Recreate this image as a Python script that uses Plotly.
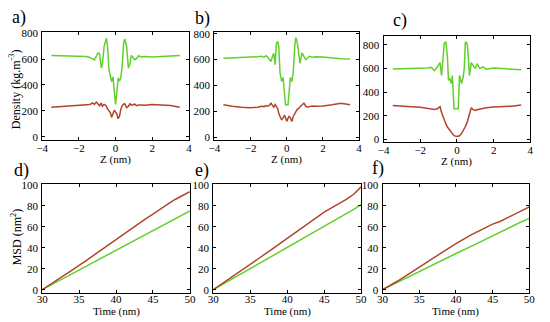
import plotly.graph_objects as go

# ---------------- data ----------------
z_a = [-3.5, -3.0, -2.5, -2.0, -1.6, -1.4, -1.25, -1.15, -1.05, -0.95, -0.87, -0.78, -0.72, -0.62, -0.5,
       -0.44, -0.36, -0.28, -0.22, -0.14, -0.07, 0, 0.07, 0.14, 0.22, 0.28, 0.36, 0.44, 0.5, 0.6, 0.7,
       0.78, 0.86, 0.95, 1.05, 1.15, 1.25, 1.4, 1.6, 2.0, 2.5, 3.0, 3.5]
green_a = [628, 625, 622, 617, 620, 612, 603, 593, 622, 648, 640, 531, 560, 700, 760,
           700, 520, 449, 425, 462, 350, 250, 340, 455, 430, 452, 540, 720, 755, 700, 530,
           560, 628, 610, 595, 605, 625, 615, 620, 615, 618, 625, 628]
red_a = [228, 232, 238, 242, 248, 250, 262, 250, 268, 255, 240, 262, 235, 250, 238,
         215, 195, 185, 150, 185, 205, 190, 175, 140, 160, 210, 240, 252, 255, 225, 235,
         255, 245, 248, 252, 240, 245, 245, 243, 250, 248, 242, 228]

z_b = [-3.5, -3.0, -2.5, -2.0, -1.6, -1.4, -1.25, -1.15, -1.05, -0.95, -0.87, -0.78, -0.72, -0.64, -0.58,
       -0.5, -0.44, -0.37, -0.28, -0.2, -0.12, -0.07, 0, 0.07, 0.12, 0.2, 0.28, 0.36, 0.44, 0.5, 0.58,
       0.66, 0.73, 0.84, 0.95, 1.05, 1.15, 1.25, 1.4, 1.6, 2.0, 2.5, 3.0, 3.5]
green_b = [610, 612, 615, 620, 622, 625, 618, 630, 620, 600, 585, 630, 648, 560, 720,
           740, 700, 494, 431, 461, 330, 250, 250, 250, 330, 461, 430, 500, 700, 770, 735,
           640, 571, 651, 620, 600, 612, 625, 618, 622, 620, 612, 606, 605]
red_b = [250, 238, 232, 228, 232, 238, 236, 244, 240, 248, 262, 240, 232, 252, 235,
         220, 182, 160, 132, 150, 170, 150, 122, 145, 160, 150, 120, 160, 175, 195, 215,
         222, 235, 250, 262, 240, 232, 236, 240, 238, 240, 250, 262, 250]

z_c = [-3.5, -3.0, -2.5, -2.0, -1.6, -1.4, -1.23, -1.05, -0.92, -0.84, -0.74, -0.69, -0.6, -0.52, -0.46,
       -0.4, -0.3, -0.25, -0.16, 0, 0.07, 0.14, 0.25, 0.33, 0.4, 0.46, 0.56, 0.62, 0.68, 0.78, 0.9,
       1.0, 1.1, 1.25, 1.4, 1.6, 2.0, 2.5, 3.0, 3.5]
green_c = [596, 598, 596, 598, 605, 610, 582, 620, 650, 541, 700, 814, 827, 700, 500,
           520, 473, 541, 260, 260, 260, 541, 473, 520, 600, 827, 810, 700, 541, 650, 620,
           600, 640, 600, 615, 595, 605, 598, 596, 590]
red_c = [288, 280, 278, 272, 265, 262, 253, 262, 278, 228, 185, 160, 130, 106, 92,
         80, 60, 50, 33, 25, 27, 32, 50, 70, 90, 110, 147, 185, 220, 269, 250,
         245, 252, 258, 262, 268, 275, 278, 282, 292]

time = [30, 32, 34, 36, 38, 40, 42, 44, 45, 46, 47, 48, 49, 50]
red_d = [0, 9, 18.5, 28, 38, 48, 58, 67.5, 72, 77, 81.5, 86, 90, 93.5]
green_d = [0, 7.5, 15, 23, 30.5, 38, 45.5, 53, 56.5, 60, 64, 67.5, 71, 75]
red_e = [0, 9.5, 19, 29, 39, 49, 59, 69, 74, 78, 82, 86, 91, 98]
green_e = [0, 8, 16, 24.5, 32.5, 40.5, 48.5, 56.5, 60.5, 64.5, 68.5, 72.5, 76.5, 81]
red_f = [0, 8, 17, 26, 35, 44, 52, 59, 62.5, 65, 68.5, 72, 75.5, 79]
green_f = [0, 7, 14, 21, 27.5, 34.5, 41, 48, 51.5, 55, 58, 61.5, 65, 68]

panel_letters = ["a)", "b)", "c)", "d)", "e)", "f)"]

GREEN = "#63cf2c"
RED = "#b0452b"
FONT = "Liberation Serif"

W, H = 550, 322
def fx(px): return px / W
def fy(py): return 1 - py / H

fig = go.Figure()

panels = [
    (z_a, green_a, red_a, (37, 187), (27, 138), [-22, 807]),
    (z_b, green_b, red_b, (213, 361), (27, 138), [-20, 812]),
    (z_c, green_c, red_c, (386, 536), (31, 140), [-18, 875]),
    (time, green_d, red_d, (37, 188), (184, 296), [-3, 100.5]),
    (time, green_e, red_e, (212, 363), (184, 296), [-3, 100.5]),
    (time, green_f, red_f, (385, 535), (184, 296), [-3, 100.5]),
]
letter_pos = [(4, 12), (191, 13), (394, 15), (6, 170), (191, 170), (372, 168)]
xtitle_y = [158, 158, 160, 315.5, 315.5, 315.5]
xlabel_standoff = [-2, -2, -2, -4, -4, -4]

def add_text(text, px, py, size=11, angle=0):
    fig.add_annotation(text=text, x=fx(px), y=fy(py), xref="paper", yref="paper",
                       xanchor="center", yanchor="middle", showarrow=False, textangle=angle,
                       font=dict(family=FONT, size=size, color="black"))

for i, (xs, g, r, (x0, x1), (y0, y1), yr) in enumerate(panels):
    n = i + 1
    xa = "x" if n == 1 else f"x{n}"
    ya = "y" if n == 1 else f"y{n}"
    fig.add_trace(go.Scatter(x=xs, y=g, mode="lines", line=dict(color=GREEN, width=1.5),
                             xaxis=xa, yaxis=ya, showlegend=False, hoverinfo="skip"))
    fig.add_trace(go.Scatter(x=xs, y=r, mode="lines", line=dict(color=RED, width=1.5),
                             xaxis=xa, yaxis=ya, showlegend=False, hoverinfo="skip"))
    top = i < 3
    axcommon = dict(showline=True, linecolor="black", linewidth=1.2, mirror="allticks",
                    ticks="inside", ticklen=3, tickcolor="black", showgrid=False, zeroline=False,
                    tickfont=dict(family=FONT, size=11, color="black"))
    xlayout = dict(axcommon, domain=[fx(x0), fx(x1)], anchor=ya, ticklabelstandoff=xlabel_standoff[i])
    ylayout = dict(axcommon, domain=[fy(y1), fy(y0)], anchor=xa, range=yr, ticklabelstandoff=1)
    xc = (x0 + x1) / 2
    if top:
        xlayout.update(range=[-4, 4], tickvals=[-4, -2, 0, 2, 4])
        ylayout.update(tickvals=[0, 200, 400, 600, 800])
        add_text("Z (nm)", xc, xtitle_y[i])
        if n == 1:
            add_text("Density (kg.m<sup>-3</sup>)", 9, 86, size=12, angle=-90)
    else:
        xlayout.update(range=[30, 50], tickvals=[30, 35, 40, 45, 50])
        ylayout.update(tickvals=[0, 20, 40, 60, 80, 100])
        add_text("Time (nm)", xc, xtitle_y[i])
        if n == 4:
            add_text("MSD (nm<sup>2</sup>)", 11, 238, size=12, angle=-90)
    fig.layout[f"xaxis{'' if n == 1 else n}"] = xlayout
    fig.layout[f"yaxis{'' if n == 1 else n}"] = ylayout
    lx, ly = letter_pos[i]
    fig.add_annotation(text=panel_letters[i], x=fx(lx), y=fy(ly), xref="paper", yref="paper",
                       xanchor="left", yanchor="middle", showarrow=False,
                       font=dict(family=FONT, size=18, color="black"))

fig.update_layout(width=W, height=H, margin=dict(l=0, r=0, t=0, b=0),
                  paper_bgcolor="white", plot_bgcolor="white")

fig.write_html("out.html", config={"displayModeBar": False},
               post_script="document.body.style.margin='0';document.body.style.overflow='hidden';")
